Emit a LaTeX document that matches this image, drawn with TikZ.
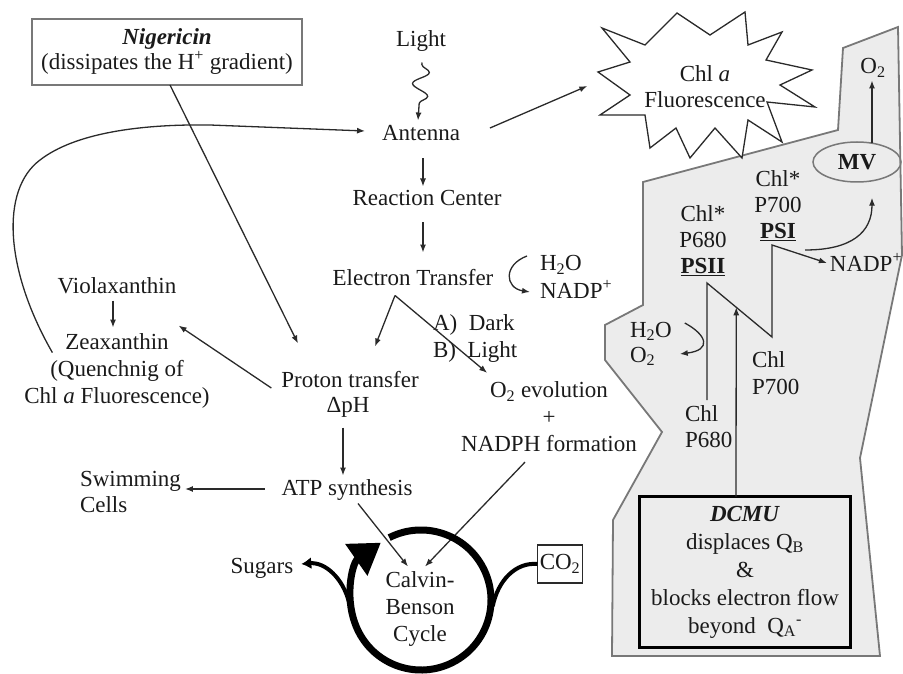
\documentclass[tikz,border=0pt]{standalone}
\usepackage{fontspec}
\setmainfont{Liberation Serif}
\usetikzlibrary{arrows.meta,calc,shapes.geometric,decorations.pathmorphing}
\definecolor{txt}{HTML}{1A1A1A}
\definecolor{ln}{HTML}{2A2A2A}
\definecolor{greyfill}{HTML}{ECECEC}
\definecolor{greyedge}{HTML}{787878}
\begin{document}
\begin{tikzpicture}[x=1pt,y=-1pt,
  lbl/.style={inner sep=0pt, outer sep=0pt, text=txt, font=\fontsize{23}{27}\selectfont},
  one/.style={lbl, text height=16pt, text depth=5pt},
  arr/.style={draw=ln, line width=1.3pt, -{Latex[length=8pt,width=6pt]}},
  thickarr/.style={draw=black, line width=4pt, -{Latex[length=10pt,width=12pt]}}
  ]
\useasboundingbox (0,0) rectangle (903,674);

% grey region
\draw[greyedge, fill=greyfill, line width=1.8pt, line join=miter]
  (843,48) -- (898,27) -- (902,255) -- (860,458) -- (880,656) -- (612,656)
  -- (613,520) -- (662,432) -- (605,360) -- (605,325) -- (643,305)
  -- (643,182) -- (838,130) -- cycle;

% star
\draw[ln, fill=white, line width=1.3pt, line join=miter]
  (602,28) -- (645,45) -- (677,13) -- (710,35) -- (745,12) -- (748,45)
  -- (782,32) -- (766,60) -- (812,70) -- (780,85) -- (815,107) -- (767,102)
  -- (782,142) -- (748,120) -- (742,158) -- (715,128) -- (690,158) -- (676,128)
  -- (650,148) -- (645,115) -- (600,115) -- (630,95) -- (598,72) -- (630,62) -- cycle;

% ---------- nodes ----------
\node[lbl, draw=greyedge, line width=1.5pt, fill=white, align=center,
  minimum width=270pt, minimum height=66pt, font=\fontsize{23}{25}\selectfont] (nig) at (167,52)
  {\textbf{\textit{Nigericin}}\\(dissipates the H\textsuperscript{+} gradient)};
\node[one] (light) at (421,41) {Light};
\node[one] (ant) at (421,135) {Antenna};
\node[one] (rc) at (427,200) {Reaction Center};
\node[one] (et) at (413,280) {Electron Transfer};
\node[one, anchor=west] (h2oA) at (540,265) {H\textsubscript{2}O};
\node[one, anchor=west] (nadpA) at (540,293) {NADP\textsuperscript{+}};
\node[one, anchor=west] (dark) at (433,325) {A)\ \ Dark};
\node[one, anchor=west] (lightB) at (433,352) {B)\ \ Light};
\node[one] (pt) at (350,382) {Proton transfer};
\node[one] (dph) at (348,407) {ΔpH};
\node[lbl, align=center] (o2ev) at (549,417) {O\textsubscript{2} evolution\\+\\NADPH formation};
\node[one] (atp) at (347,490) {ATP synthesis};
\node[lbl, align=left, anchor=west, font=\fontsize{23}{26}\selectfont] (swim) at (80,492) {Swimming\\Cells};
\node[one] (viola) at (117,288) {Violaxanthin};
\node[lbl, align=center] (zea) at (117,371) {Zeaxanthin\\(Quenchnig of\\Chl \textit{a} Fluorescence)};
\node[one] (sugars) at (262,568) {Sugars};
\node[lbl, align=center] (calvin) at (420,609) {Calvin-\\Benson\\Cycle};
\node[one, draw=ln, line width=1.2pt, minimum width=45pt, minimum height=38pt, fill=white] (co2) at (560,564) {CO\textsubscript{2}};
\node[lbl, align=center, font=\fontsize{23}{26}\selectfont] (flu) at (705,87) {Chl \textit{a}\\Fluorescence};
\node[ellipse, draw=greyedge, line width=1.5pt, minimum width=88pt, minimum height=40pt,
  inner sep=0pt, text=txt, font=\fontsize{23}{27}\selectfont] (mv) at (857,162) {\textbf{MV}};
\node[one] (o2t) at (873,68) {O\textsubscript{2}};
\node[lbl, align=center, font=\fontsize{23}{26}\selectfont] (psi) at (778,206) {Chl*\\P700\\\underline{\textbf{PSI}}};
\node[lbl, align=center, font=\fontsize{23}{26}\selectfont] (psii) at (703,241) {Chl*\\P680\\\underline{\textbf{PSII}}};
\node[one] (nadpB) at (866,266) {NADP\textsuperscript{+}};
\node[lbl, align=left, anchor=west, font=\fontsize{23}{25}\selectfont] (h2oB) at (630,344) {H\textsubscript{2}O\\O\textsubscript{2}};
\node[lbl, align=left, anchor=west] (chl700) at (752,373) {Chl\\P700};
\node[lbl, align=left, anchor=west, font=\fontsize{23}{26}\selectfont] (chl680) at (685,427) {Chl\\P680};
\node[lbl, align=center, draw=black, line width=3pt, fill=greyfill, minimum width=211pt,
  minimum height=151pt, font=\fontsize{23}{28}\selectfont] (dcmu) at (745,572)
  {\textbf{\textit{DCMU}}\\displaces Q\textsubscript{B}\\\&\\blocks electron flow\\beyond\ \ Q\textsubscript{A}\textsuperscript{-}};

% ---------- coordinates ----------
\coordinate (apex) at ($(et.south)+(-18,5)$);
\coordinate (cyc) at (421,600);
\coordinate (z0) at (707,400);
\coordinate (z1) at (707,283);
\coordinate (z2) at (772,337);
\coordinate (z3) at (772,245);
\coordinate (c1) at (805,250);

% ---------- connectors ----------
\draw[arr, decorate, decoration={snake, amplitude=8pt, segment length=24pt, pre length=2pt, post length=6pt}]
  ($(light.south)+(1,11)$) -- ($(ant.north)+(-3,-4)$);
\draw[arr] ($(ant.south)+(2,13)$) -- ($(rc.north)+(-4,-3)$);
\draw[arr] ($(rc.south)+(-4,12)$) -- ($(et.north)+(10,-17)$);
\draw[arr] ($(h2oA.west)+(-13,-9)$) .. controls (503,265) and (505,288) .. ($(nadpA.west)+(-10,-1)$);
\draw[arr] (apex) -- ($(pt.north)+(25,-25)$);
\draw[arr] (apex) -- ($(o2ev.north west)+(26,-9)$);
\draw[arr] ($(nig.south)+(3,0)$) -- ($(pt.north)+(-52,-28)$);
\draw[arr] ($(pt.west)+(-10,6)$) -- ($(zea.north east)+(-31,-8)$);
\draw[arr] ($(viola.south)+(-4,2)$) -- ($(zea.north)+(-4,-6)$);
\draw[arr] ($(zea.north west)+(28,19)$) .. controls (5,270) and (0,190) .. (40,160)
  .. controls (75,133) and (140,124) .. (210,125) -- ($(ant.west)+(-17,-4)$);
\draw[arr] ($(ant.east)+(30,-7)$) -- ($(flu.west)+(-57,-1)$);
\draw[arr] ($(dph.south)+(-5,10)$) -- ($(atp.north)+(-4,-4)$);
\draw[arr] ($(atp.west)+(-17,-1)$) -- ($(swim.east)+(4,-3)$);
\draw[arr] ($(atp.south)+(11,3)$) -- ($(calvin.north)+(-12,-5)$);
\draw[arr] ($(o2ev.south)+(-24,10)$) -- ($(calvin.north)+(5,-5)$);

% Calvin cycle ring
\draw[black, line width=7pt, -{Triangle[length=30pt,width=37pt]}]
  ($(cyc)+(-117:70)$) arc[start angle=-117, end angle=235, radius=70];
\draw[thickarr] ($(cyc)+(178:72)$) .. controls (343,578) and (325,562) .. ($(sugars.east)+(8,-4)$);
\draw[black, line width=4pt] (co2.west) .. controls (516,562) and (498,580) .. ($(cyc)+(5:72)$);

% Z-scheme
\draw[arr, line join=miter] (z0) -- (z1) -- (z2) -- (z3) -- ($(nadpB.west)+(-3,-3)$);
\draw[arr] (c1) .. controls (852,250) and (872,232) .. ($(mv.south)+(15,15)$);
\draw[arr] ($(mv.north)+(15,2)$) -- ($(o2t.south)+(-1,2)$);
\draw[arr] ($(h2oB.east)+(13,-21)$) .. controls (707,335) and (712,350) .. ($(h2oB.east)+(8,10)$);
\draw[arr] ($(dcmu.north)+(-9,0)$) -- ($(z1)!0.45!(z2)$);
\end{tikzpicture}
\end{document}
